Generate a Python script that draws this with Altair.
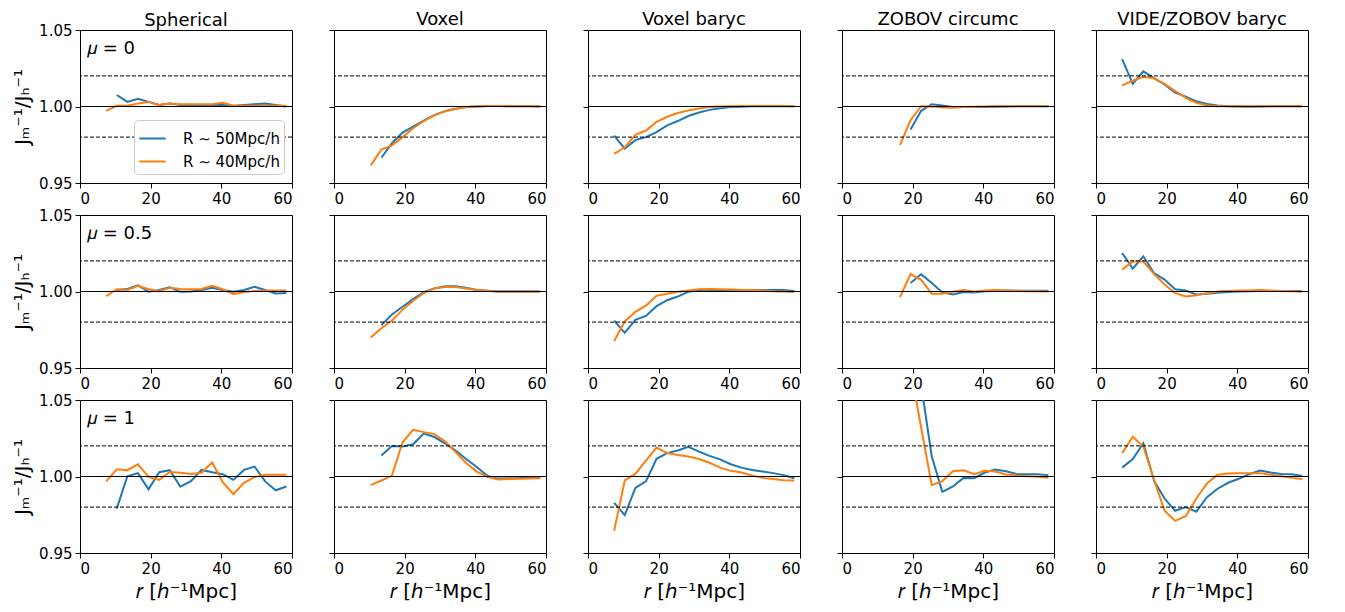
import altair as alt
import pandas as pd

# ---------------- data ----------------
r = [7.4, 10.4, 13.4, 16.4, 19.4, 22.4, 25.4, 28.4, 31.4, 34.4,
     37.4, 40.4, 43.4, 46.4, 49.4, 52.4, 55.4, 58.4]

methods = ["Spherical", "Voxel", "Voxel baryc", "ZOBOV circumc", "VIDE/ZOBOV baryc"]
mus = ["0", "0.5", "1"]
mu_labels = ["𝜇 = 0", "𝜇 = 0.5", "𝜇 = 1"]
series = ["R ∼ 50Mpc/h", "R ∼ 40Mpc/h"]
N = None

# mu = 0  (blue = R~50, orange = R~40)
sph_0_b = [N, 1.0075, 1.003, 1.005, 1.003, 1.001, 1.002, 1.001, 1.0005, 1.001, 1.001, 1.001, 1.0005, 1.001, 1.0015, 1.002, 1.001, 1.0]
sph_0_o = [0.9972, 1.0005, 1.0005, 1.002, 1.003, 1.001, 1.002, 1.0015, 1.0015, 1.0015, 1.0015, 1.0025, 1.0005, 1.0005, 1.0005, 1.0005, 1.0005, 1.0005]
vox_0_b = [N, N, 0.9665, 0.976, 0.983, 0.9869, 0.9908, 0.9944, 0.997, 0.9985, 0.9996, 1.0, 1.0003, 1.0003, 1.0002, 1.0002, 1.0001, 1.0]
vox_0_o = [N, 0.9615, 0.9718, 0.9746, 0.980, 0.9858, 0.9905, 0.9942, 0.9968, 0.9984, 0.9996, 1.0, 1.0003, 1.0003, 1.0002, 1.0002, 1.0001, 1.0]
vb_0_b = [0.981, 0.9725, 0.978, 0.980, 0.9832, 0.9877, 0.9905, 0.9938, 0.9961, 0.9978, 0.9989, 0.9996, 0.9998, 1.0001, 1.0002, 1.0002, 1.0002, 1.0002]
vb_0_o = [0.969, 0.9733, 0.9815, 0.9843, 0.9899, 0.9933, 0.9957, 0.9974, 0.9987, 0.9996, 1.0, 1.0002, 1.0003, 1.0003, 1.0003, 1.0003, 1.0003, 1.0002]
zc_0_b = [N, N, N, N, 0.985, 0.9972, 1.0015, 1.0006, 0.9996, 0.9996, 0.9996, 0.9997, 0.9999, 1.0, 1.0001, 1.0001, 1.0001, 1.0001]
zc_0_o = [N, N, N, 0.9748, 0.991, 1.0002, 1.0, 0.9994, 0.9992, 0.9996, 0.9998, 1.0, 1.0001, 1.0002, 1.0002, 1.0002, 1.0002, 1.0002]
vz_0_b = [1.031, 1.0148, 1.023, 1.0185, 1.0144, 1.009, 1.0065, 1.0034, 1.0017, 1.0006, 1.0002, 1.0, 0.9999, 1.0, 1.0001, 1.0001, 1.0001, 1.0001]
vz_0_o = [1.0138, 1.0168, 1.0194, 1.0185, 1.0148, 1.0101, 1.0056, 1.0024, 1.0006, 1.0002, 1.0001, 1.0001, 1.0001, 1.0001, 1.0001, 1.0001, 1.0001, 1.0001]

# mu = 0.5
sph_05_b = [N, 1.001, 1.0017, 1.004, 0.9998, 1.001, 1.0028, 0.9998, 1.0, 1.001, 1.0024, 1.001, 0.9998, 1.001, 1.003, 1.001, 0.9987, 0.999]
sph_05_o = [0.997, 1.0015, 1.001, 1.0037, 1.0015, 1.0002, 1.0024, 1.0017, 1.0015, 1.0017, 1.0037, 1.0015, 0.9983, 0.9996, 1.0004, 1.0007, 1.0007, 1.0007]
vox_05_b = [N, N, 0.978, 0.985, 0.990, 0.995, 0.9995, 1.002, 1.0035, 1.0035, 1.0025, 1.001, 1.0005, 1.0, 1.0, 1.0, 1.0, 1.0]
vox_05_o = [N, 0.970, 0.976, 0.981, 0.988, 0.994, 0.999, 1.002, 1.003, 1.003, 1.002, 1.001, 1.0005, 1.0, 1.0, 1.0, 1.0, 1.0]
vb_05_b = [0.981, 0.973, 0.9815, 0.984, 0.9904, 0.9943, 0.9967, 0.9998, 1.001, 1.001, 1.001, 1.001, 1.001, 1.001, 1.001, 1.001, 1.001, 1.0004]
vb_05_o = [0.9676, 0.9804, 0.9867, 0.9907, 0.9972, 0.9985, 0.9998, 1.0007, 1.0015, 1.0017, 1.0015, 1.0013, 1.001, 1.001, 1.0007, 1.0002, 1.0, 0.9996]
zc_05_b = [N, N, N, N, 1.0056, 1.0113, 1.0056, 0.9994, 0.998, 0.9996, 0.9994, 1.0002, 1.0004, 1.0007, 1.0005, 1.0005, 1.0005, 1.0005]
zc_05_o = [N, N, N, 0.9963, 1.0113, 1.0076, 0.9985, 0.9985, 0.9998, 1.001, 1.0, 1.0007, 1.001, 1.0007, 1.0005, 1.0002, 1.0002, 1.0]
vz_05_b = [1.0252, 1.015, 1.023, 1.012, 1.0078, 1.0015, 1.0007, 0.998, 0.9985, 0.9991, 0.9996, 1.0, 1.0002, 1.0004, 1.0004, 1.0004, 1.0004, 1.0002]
vz_05_o = [1.0143, 1.0196, 1.0196, 1.0115, 1.0046, 0.9989, 0.9967, 0.9976, 0.9989, 1.0, 1.0004, 1.0007, 1.0007, 1.0009, 1.0007, 1.0004, 1.0002, 1.0]

# mu = 1
sph_1_b = [N, 0.979, 1.0002, 1.0022, 0.9916, 1.0028, 1.0041, 0.9933, 0.997, 1.0043, 1.0028, 1.0015, 0.9978, 1.0043, 1.0065, 0.9968, 0.991, 0.9935]
sph_1_o = [0.9968, 1.0047, 1.0041, 1.008, 0.9998, 0.9978, 1.003, 1.0024, 1.0017, 1.0024, 1.0092, 0.9963, 0.9884, 0.9959, 0.9996, 1.0011, 1.0011, 1.0011]
vox_1_b = [N, N, 1.0138, 1.02, 1.0196, 1.0211, 1.028, 1.0258, 1.0217, 1.017, 1.0114, 1.0062, 1.0004, 0.9987, 0.9989, 0.9991, 0.9996, 0.9996]
vox_1_o = [N, 0.9944, 0.9974, 1.0006, 1.0224, 1.0305, 1.029, 1.0277, 1.023, 1.0159, 1.0088, 1.0032, 0.9998, 0.998, 0.9983, 0.9985, 0.9987, 0.9989]
vb_1_b = [0.9828, 0.9748, 0.9925, 0.9968, 1.0116, 1.0153, 1.017, 1.0194, 1.0163, 1.0135, 1.0112, 1.008, 1.0058, 1.0043, 1.0032, 1.0022, 1.0009, 0.9989]
vb_1_o = [0.9645, 0.9974, 1.0017, 1.0103, 1.0189, 1.0153, 1.014, 1.0131, 1.0114, 1.009, 1.0058, 1.0037, 1.0026, 1.0006, 0.9991, 0.9983, 0.9976, 0.9974]
zc_1_b = [N, N, N, N, 1.10, 1.06, 1.0131, 0.990, 0.9935, 0.9991, 0.9989, 1.0026, 1.0045, 1.0034, 1.0017, 1.0015, 1.0015, 1.0009]
zc_1_o = [N, N, N, 1.11, 1.07, 1.032, 0.9944, 0.997, 1.0034, 1.0041, 1.0015, 1.0037, 1.0032, 1.0013, 1.0006, 1.0002, 0.9998, 0.9991]
vz_1_b = [1.0058, 1.0114, 1.0217, 0.9974, 0.9856, 0.9776, 0.980, 0.977, 0.9865, 0.992, 0.9959, 0.9985, 1.0015, 1.0039, 1.0026, 1.0017, 1.0015, 1.0004]
vz_1_o = [1.0153, 1.026, 1.0196, 0.998, 0.9776, 0.971, 0.974, 0.9856, 0.9955, 1.0011, 1.0019, 1.0022, 1.0022, 1.0022, 1.0011, 1.0002, 0.9991, 0.9983]

grid = [
    [(sph_0_b, sph_0_o), (vox_0_b, vox_0_o), (vb_0_b, vb_0_o), (zc_0_b, zc_0_o), (vz_0_b, vz_0_o)],
    [(sph_05_b, sph_05_o), (vox_05_b, vox_05_o), (vb_05_b, vb_05_o), (zc_05_b, zc_05_o), (vz_05_b, vz_05_o)],
    [(sph_1_b, sph_1_o), (vox_1_b, vox_1_o), (vb_1_b, vb_1_o), (zc_1_b, zc_1_o), (vz_1_b, vz_1_o)],
]

ref_dashed = [0.98, 1.02]
ref_solid = [1.0]
x_ticks = [0, 20, 40, 60]
y_ticks = [0.95, 1.00, 1.05]

BLUE = "#1f77b4"
ORANGE = "#ff7f0e"
FONT = "DejaVu Sans"
W, H = 212, 153

xtitle = "𝑟 [ℎ⁻¹Mpc]"
ytitle = "Jₘ⁻¹/Jₕ⁻¹"


def panel(ri, ci):
    b, o = grid[ri][ci]
    rows = []
    for s, vals in ((series[0], b), (series[1], o)):
        for rr, v in zip(r, vals):
            if v is not None:
                rows.append({"r": rr, "v": v, "series": s})
    d = pd.DataFrame(rows)

    xax = alt.Axis(values=x_ticks, title=xtitle if ri == 2 else None,
                   titlePadding=5, titleFontSize=20)
    yax = alt.Axis(values=y_ticks, format=".2f", labels=(ci == 0),
                   title=ytitle if ci == 0 else None, titlePadding=6,
                   titleFontSize=20)
    xenc = alt.X("r:Q", scale=alt.Scale(domain=[0, 60], nice=False, zero=False), axis=xax)
    yenc = alt.Y("v:Q", scale=alt.Scale(domain=[0.95, 1.05], nice=False, zero=False), axis=yax)

    if ri == 0 and ci == 0:
        leg = alt.Legend(orient="none", legendX=54, legendY=90, title=None,
                         symbolType="stroke", symbolStrokeWidth=2, symbolSize=700,
                         labelFontSize=15, labelFont=FONT, labelColor="black",
                         strokeColor="#cccccc", fillColor="white", cornerRadius=4,
                         padding=4, rowPadding=-2, labelOffset=16)
    else:
        leg = None
    cenc = alt.Color("series:N", scale=alt.Scale(domain=series, range=[BLUE, ORANGE]),
                     legend=leg)

    dashed = alt.Chart(pd.DataFrame({"v": ref_dashed})).mark_rule(
        color="black", strokeWidth=1, strokeDash=[4, 2]).encode(y=alt.Y("v:Q"))
    solid = alt.Chart(pd.DataFrame({"v": ref_solid})).mark_rule(
        color="black", strokeWidth=1).encode(y=alt.Y("v:Q"))

    base = alt.Chart(d)
    blue_line = base.transform_filter(alt.datum.series == series[0]).mark_line(
        clip=True, strokeWidth=2).encode(x=xenc, y=yenc, color=cenc)
    orange_line = base.transform_filter(alt.datum.series == series[1]).mark_line(
        clip=True, strokeWidth=2).encode(x=xenc, y=yenc, color=cenc)

    layers = [blue_line, orange_line, dashed, solid]
    if ci == 0:
        txt = alt.Chart(pd.DataFrame({"t": [mu_labels[ri]]})).mark_text(
            align="left", baseline="middle", fontSize=18, font=FONT, color="black"
        ).encode(text="t:N", x=alt.value(7), y=alt.value(19))
        layers.append(txt)

    ch = alt.layer(*layers).properties(width=W, height=H)
    if ri == 0:
        off = -7 if ci == 0 else 1
        ch = ch.properties(title=alt.Title(methods[ci], frame="group", offset=off))
    return ch


panels = [panel(ri, ci) for ri in range(3) for ci in range(5)]

chart = alt.concat(*panels, columns=5, spacing={"row": 32, "column": 42},
                   bounds="flush").properties(
    padding={"left": 4, "top": 2, "right": 5, "bottom": 0}
).configure_view(
    stroke="black", strokeWidth=1
).configure_axis(
    grid=False, domain=False, tickColor="black", tickSize=5, tickWidth=1,
    labelColor="black", labelFont=FONT, labelFontSize=15, labelPadding=3,
    titleFont=FONT, titleFontSize=18, titleColor="black", titleFontWeight="normal"
).configure_title(
    font=FONT, fontSize=18, fontWeight="normal", color="black", frame="group"
)

chart.save("out.html", embed_options={"renderer": "svg", "actions": False})
